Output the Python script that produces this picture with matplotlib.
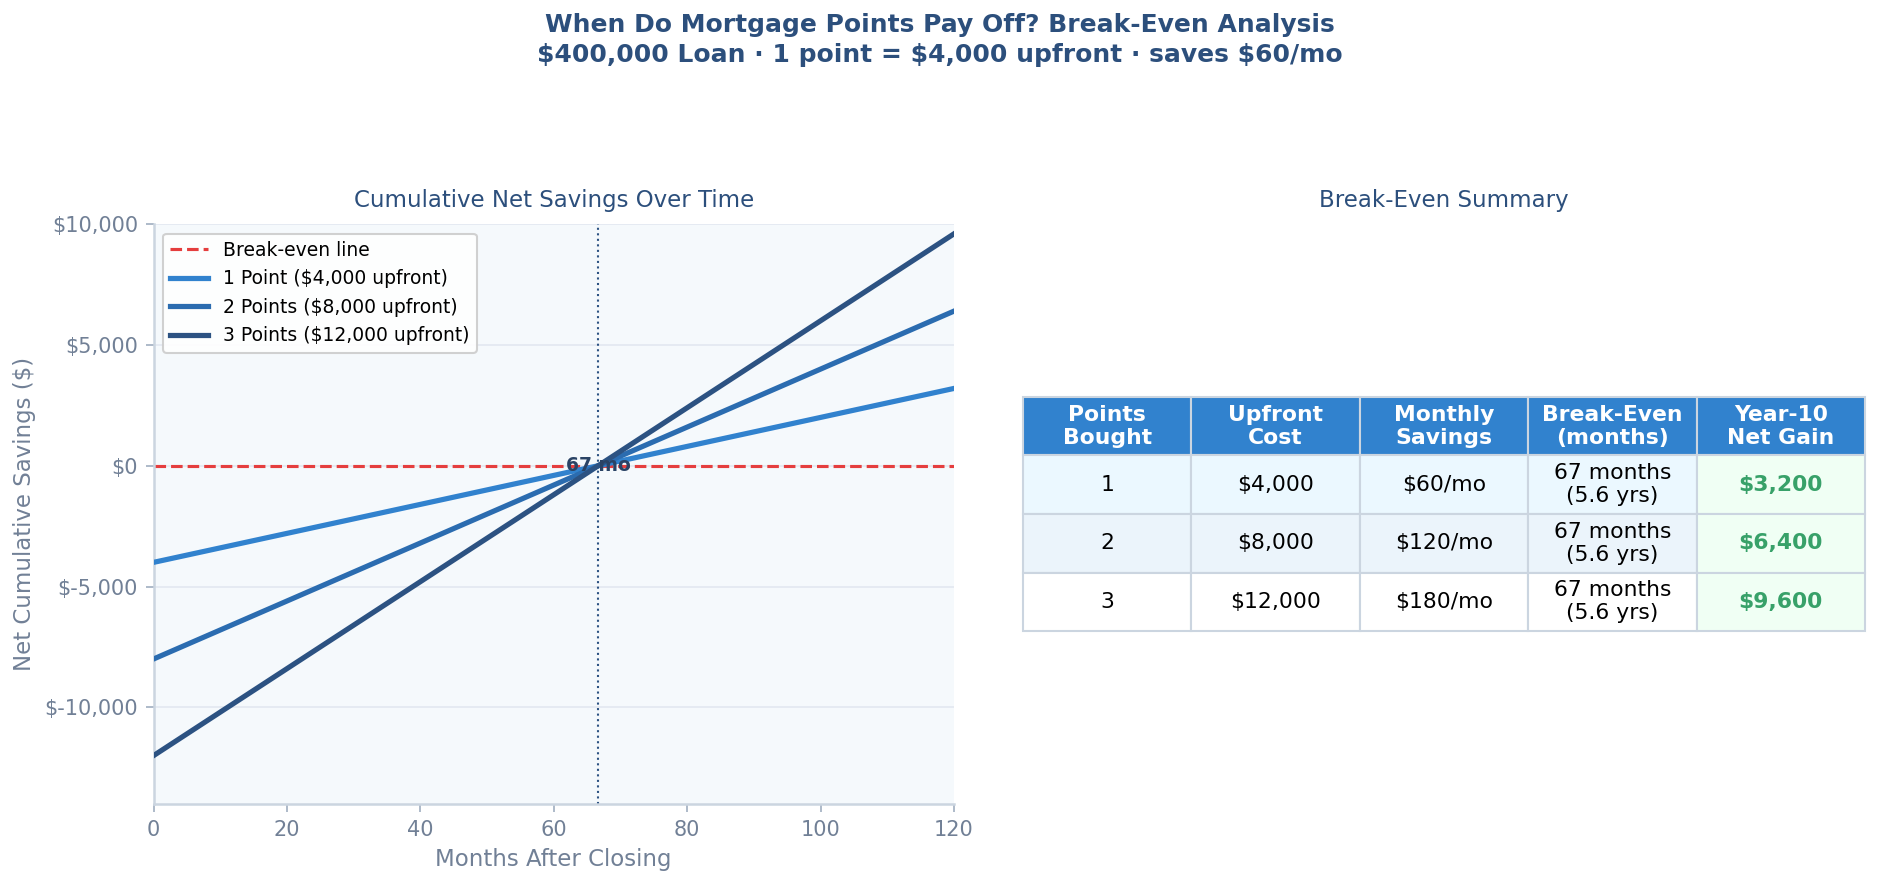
import matplotlib
matplotlib.use("Agg")
import matplotlib.pyplot as plt

# ---- data ----
months = [0, 120]
series_labels = ["1 Point ($4,000 upfront)", "2 Points ($8,000 upfront)", "3 Points ($12,000 upfront)"]
series_values = [[-4000, 3200], [-8000, 6400], [-12000, 9600]]
series_colors = ["#3182ce", "#2b6cb0", "#2c5282"]
break_even_month = 66.67
y_ticks = [-10000, -5000, 0, 5000, 10000]
x_ticks = [0, 20, 40, 60, 80, 100, 120]

col_labels = ["Points\nBought", "Upfront\nCost", "Monthly\nSavings", "Break-Even\n(months)", "Year-10\nNet Gain"]
points_bought = ["1", "2", "3"]
upfront_cost = ["$4,000", "$8,000", "$12,000"]
monthly_savings = ["$60/mo", "$120/mo", "$180/mo"]
break_even = ["67 months\n(5.6 yrs)", "67 months\n(5.6 yrs)", "67 months\n(5.6 yrs)"]
net_gain = ["$3,200", "$6,400", "$9,600"]

DARK = "#2c4f7c"
GRAY = "#718096"
SPINE = "#cbd5e0"

fig = plt.figure(figsize=(1879/150, 886/150), dpi=150)
fig.patch.set_facecolor("white")

fig.suptitle("When Do Mortgage Points Pay Off? Break-Even Analysis\n$400,000 Loan \u00b7 1 point = $4,000 upfront \u00b7 saves $60/mo",
             fontsize=12, fontweight="bold", color=DARK, y=0.985, linespacing=1.3)

# ---- left chart ----
ax = fig.add_axes([0.0817, 0.0926, 0.426, 0.6544])
ax.set_facecolor("#f5f9fc")
ax.axhline(0, color="#e53e3e", ls="--", lw=1.5, label="Break-even line", zorder=2)
for lab, vals, c in zip(series_labels, series_values, series_colors):
    ax.plot(months, vals, color=c, lw=2.5, label=lab, zorder=3)
ax.axvline(break_even_month, color="#2c5282", ls=":", lw=1.0, zorder=2)
ax.text(break_even_month, 0, "67 mo", ha="center", va="center", fontsize=9,
        fontweight="bold", color="#2a4365", zorder=4)
ax.set_xlim(0, 120)
ax.set_ylim(-14000, 10000)
ax.set_xticks(x_ticks)
ax.set_yticks(y_ticks)
ax.set_yticklabels([f"${v:,.0f}" for v in y_ticks])
ax.tick_params(colors=GRAY, labelsize=10, length=4)
for t in ax.get_xticklabels() + ax.get_yticklabels():
    t.set_color(GRAY)
ax.tick_params(axis="both", color="#a0aec0")
ax.grid(axis="y", color="#e2e8f0", lw=0.8)
ax.set_axisbelow(True)
for s in ["top", "right"]:
    ax.spines[s].set_visible(False)
for s in ["left", "bottom"]:
    ax.spines[s].set_color(SPINE)
    ax.spines[s].set_linewidth(1.2)
ax.set_xlabel("Months After Closing", fontsize=11, color=GRAY)
ax.set_ylabel("Net Cumulative Savings ($)", fontsize=11, color=GRAY)
ax.set_title("Cumulative Net Savings Over Time", fontsize=11, color=DARK, pad=8)
leg = ax.legend(loc="upper left", fontsize=9, frameon=True, facecolor="white",
                edgecolor="#cccccc", framealpha=0.9)

# ---- right table ----
ax2 = fig.add_axes([0.5444, 0.0926, 0.4481, 0.6544])
ax2.axis("off")
ax2.set_title("Break-Even Summary", fontsize=11, color=DARK, pad=8)
rows = [list(r) for r in zip(points_bought, upfront_cost, monthly_savings, break_even, net_gain)]
tbl = ax2.table(cellText=rows, colLabels=col_labels, cellLoc="center",
                bbox=[0, 0.298, 1, 0.404])
tbl.auto_set_font_size(False)
tbl.set_fontsize(10.5)
row_bg = ["#ebf8ff", "#ebf4fb", "#ffffff"]
for (r, c), cell in tbl.get_celld().items():
    cell.set_edgecolor(SPINE)
    cell.set_linewidth(1.0)
    if r == 0:
        cell.set_facecolor("#3182ce")
        cell.get_text().set_color("white")
        cell.get_text().set_fontweight("bold")
    else:
        if c == 4:
            cell.set_facecolor("#f0fff4")
            cell.get_text().set_color("#38a169")
            cell.get_text().set_fontweight("bold")
        else:
            cell.set_facecolor(row_bg[r - 1])
            cell.get_text().set_color("black")

fig.savefig("out.png", dpi=150)
